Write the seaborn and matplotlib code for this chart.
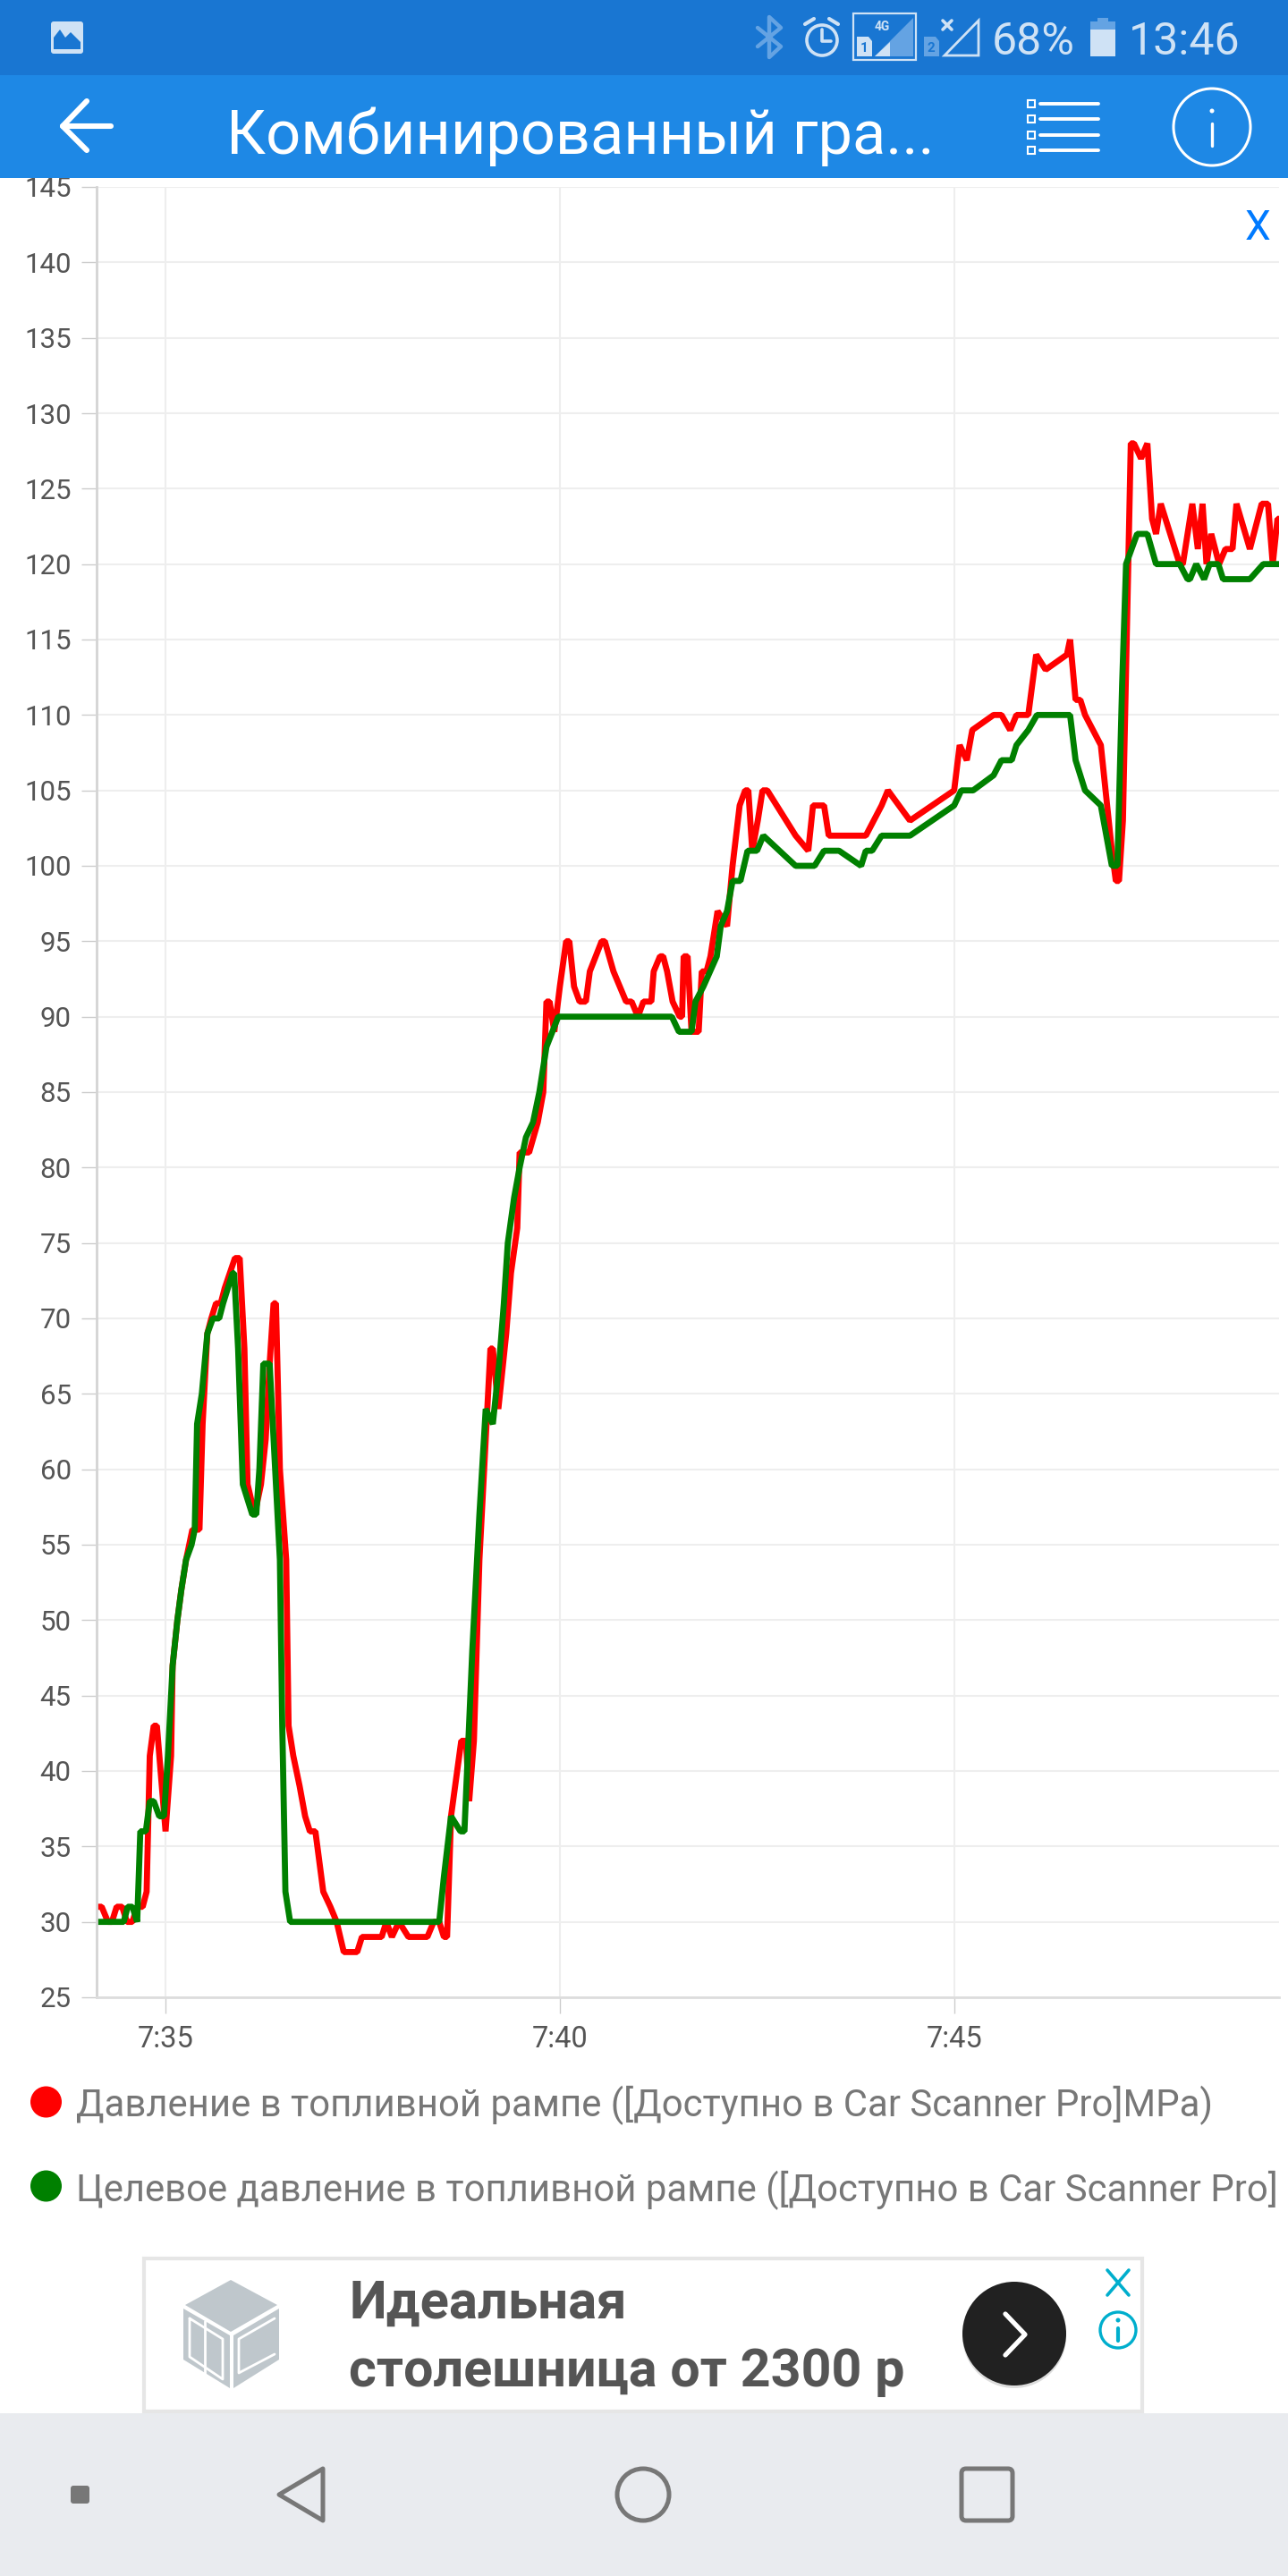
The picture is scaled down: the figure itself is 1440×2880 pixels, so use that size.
import matplotlib
matplotlib.use("Agg")
import matplotlib.pyplot as plt
import pandas as pd
import seaborn as sns
from matplotlib.patches import Circle, FancyBboxPatch, Polygon, Rectangle

# minutes after 7:00, pressure in MPa
RED_TIME = [
    34.12, 34.19, 34.27, 34.32, 34.38, 34.45, 34.51, 34.58, 34.64, 34.71, 34.76, 34.80, 34.85, 34.89,
    35.00, 35.07, 35.09, 35.15, 35.20, 35.26, 35.34, 35.43, 35.47, 35.53, 35.58, 35.64, 35.70, 35.75,
    35.88, 35.94, 36.00, 36.04, 36.13, 36.21, 36.27, 36.32, 36.37, 36.40, 36.45, 36.53, 36.56, 36.62,
    36.70, 36.77, 36.83, 36.90, 37.00, 37.09, 37.17, 37.26, 37.43, 37.49, 37.74, 37.80, 37.87, 37.96,
    38.08, 38.32, 38.40, 38.47, 38.53, 38.57, 38.62, 38.75, 38.81, 38.85, 38.91, 38.98, 39.06, 39.12,
    39.15, 39.22, 39.32, 39.38, 39.46, 39.49, 39.61, 39.72, 39.79, 39.83, 39.87, 39.93, 40.00, 40.08,
    40.12, 40.18, 40.25, 40.33, 40.38, 40.53, 40.57, 40.68, 40.84, 40.91, 40.99, 41.06, 41.16, 41.19,
    41.27, 41.31, 41.36, 41.43, 41.52, 41.55, 41.57, 41.62, 41.67, 41.76, 41.80, 41.86, 41.91, 42.00,
    42.12, 42.19, 42.28, 42.35, 42.39, 42.44, 42.51, 42.57, 42.63, 42.99, 43.15, 43.21, 43.25, 43.35,
    43.41, 43.88, 44.08, 44.16, 44.44, 45.00, 45.07, 45.16, 45.23, 45.50, 45.60, 45.71, 45.79, 45.94,
    46.04, 46.16, 46.43, 46.47, 46.54, 46.60, 46.66, 46.86, 47.00, 47.05, 47.09, 47.14, 47.24, 47.28,
    47.37, 47.45, 47.51, 47.56, 47.62, 47.86, 47.90, 48.02, 48.09, 48.15, 48.20, 48.26, 48.36, 48.44,
    48.53, 48.58, 48.75, 48.90, 48.98, 49.04, 49.10, 49.12,
]
RED_VALUE = [
    31, 31, 30, 30, 31, 31, 30, 30, 31, 31, 32, 41, 43, 43,
    36, 41, 47, 50, 52, 54, 56, 56, 63, 69, 70, 71, 71, 72,
    74, 74, 68, 59, 57, 59, 62, 67, 71, 71, 60, 54, 43, 41,
    39, 37, 36, 36, 32, 31, 30, 28, 28, 29, 29, 30, 29, 30,
    29, 29, 30, 30, 29, 29, 37, 42, 42, 38, 42, 54, 62, 68,
    68, 64, 69, 73, 76, 81, 81, 83, 85, 91, 91, 89, 92, 95,
    95, 92, 91, 91, 93, 95, 95, 93, 91, 91, 90, 91, 91, 93,
    94, 94, 93, 91, 90, 90, 94, 94, 89, 89, 93, 93, 94, 97,
    96, 100, 104, 105, 105, 101, 103, 105, 105, 102, 101, 104, 104, 104,
    102, 102, 104, 105, 103, 105, 108, 107, 109, 110, 110, 109, 110, 110,
    114, 113, 114, 115, 111, 111, 110, 108, 101, 99, 99, 103, 128, 128,
    127, 128, 123, 122, 124, 120, 120, 124, 121, 124, 120, 122, 120, 121,
    121, 124, 121, 124, 124, 120, 123, 123,
]
GREEN_TIME = [
    34.12, 34.47, 34.52, 34.58, 34.64, 34.68, 34.75, 34.80, 34.85, 34.92, 34.98, 35.03, 35.09, 35.15,
    35.20, 35.26, 35.33, 35.37, 35.40, 35.46, 35.53, 35.60, 35.68, 35.73, 35.85, 35.87, 35.92, 35.98,
    36.04, 36.10, 36.15, 36.19, 36.24, 36.32, 36.37, 36.45, 36.48, 36.52, 36.58, 38.47, 38.53, 38.62,
    38.74, 38.79, 38.89, 38.98, 39.06, 39.15, 39.23, 39.29, 39.34, 39.42, 39.49, 39.57, 39.66, 39.74,
    39.83, 39.98, 41.42, 41.51, 41.67, 41.72, 41.82, 41.99, 42.04, 42.12, 42.19, 42.29, 42.38, 42.50,
    42.58, 42.99, 43.23, 43.35, 43.54, 43.82, 43.88, 43.96, 44.08, 44.44, 45.00, 45.09, 45.24, 45.50,
    45.60, 45.73, 45.79, 45.94, 46.05, 46.47, 46.54, 46.66, 46.86, 47.00, 47.07, 47.13, 47.18, 47.32,
    47.45, 47.56, 47.86, 47.96, 47.99, 48.07, 48.17, 48.24, 48.35, 48.41, 48.75, 48.92, 49.12,
]
GREEN_VALUE = [
    30, 30, 31, 31, 30, 36, 36, 38, 38, 37, 37, 41, 47, 50,
    52, 54, 55, 56, 63, 65, 69, 70, 70, 71, 73, 73, 68, 59,
    58, 57, 57, 60, 67, 67, 62, 54, 43, 32, 30, 30, 33, 37,
    36, 36, 48, 57, 64, 63, 67, 71, 75, 78, 80, 82, 83, 85,
    88, 90, 90, 89, 89, 91, 92, 94, 96, 97, 99, 99, 101, 101,
    102, 100, 100, 101, 101, 100, 101, 101, 102, 102, 104, 105, 105, 106,
    107, 107, 108, 109, 110, 110, 107, 105, 104, 100, 100, 112, 120, 122,
    122, 120, 120, 119, 119, 120, 119, 120, 120, 119, 119, 120, 120,
]
X_TICKS = [35, 40, 45]
X_LABELS = ["7:35", "7:40", "7:45"]
Y_TICKS = list(range(25, 150, 5))
RED_NAME = "Давление в топливной рампе ([Доступно в Car Scanner Pro]MPa)"
# the screenshot cuts this one off at the screen edge, right after "Pro]"
GREEN_NAME = "Целевое давление в топливной рампе ([Доступно в Car Scanner Pro]"

W, H = 1440, 2880
BRIGHT = "#CFE2F5"
DIM = "#64A3E3"
NAV = "#777777"

sns.set_theme(style="white")
plt.rcParams["font.family"] = ["Roboto", "DejaVu Sans"]

df = pd.concat([
    pd.DataFrame({"time": RED_TIME, "value": RED_VALUE, "series": RED_NAME}),
    pd.DataFrame({"time": GREEN_TIME, "value": GREEN_VALUE, "series": GREEN_NAME}),
])

fig = plt.figure(figsize=(W / 100, H / 100), dpi=100, facecolor="white")
ax = fig.add_axes([107.5 / W, 1 - 2233 / H, (1430 - 107.5) / W, (2233 - 209) / H])
sns.lineplot(
    data=df, x="time", y="value", hue="series", estimator=None, sort=False, ax=ax, legend=False,
    palette={RED_NAME: "#FF0000", GREEN_NAME: "#008000"}, linewidth=4.9, solid_joinstyle="bevel",
)
ax.set_xlim(34.12, 49.12)
ax.set_ylim(25, 145)
ax.set_xticks(X_TICKS, X_LABELS)
ax.set_yticks(Y_TICKS)
ax.set_xlabel("")
ax.set_ylabel("")
ax.grid(True, color="#EEEEEE", linewidth=1.5)
ax.set_axisbelow(True)
ax.tick_params(axis="x", length=13, width=1, color="#CCCCCC", labelsize=23.5, labelcolor="#555555", pad=9, bottom=True)
ax.tick_params(axis="y", length=12, width=1, color="#CCCCCC", labelsize=22.5, labelcolor="#555555", pad=8, left=True)
sns.despine(ax=ax)
ax.spines["left"].set(color="#D4D4D4", linewidth=2)
ax.spines["bottom"].set(color="#DDDDDD", linewidth=2)

# everything around the chart, drawn in screen pixels
ui = fig.add_axes([0, 0, 1, 1], zorder=10)
ui.set_xlim(0, W)
ui.set_ylim(H, 0)
ui.axis("off")


def rect(x0, y0, x1, y1, color, **kw):
    ui.add_patch(Rectangle((x0, y0), x1 - x0, y1 - y0, facecolor=color, edgecolor="none", **kw))


def line(xs, ys, color, lw=3.0, **kw):
    ui.plot(xs, ys, color=color, lw=lw, solid_capstyle="round", solid_joinstyle="round", **kw)


def ring(x, y, r, color, lw=2.5):
    ui.add_patch(Circle((x, y), r, facecolor="none", edgecolor=color, linewidth=lw))


rect(0, 0, W, 84, "#1976D2")
rect(0, 84, W, 199, "#1E88E5")

# status bar
ui.add_patch(FancyBboxPatch((57, 24), 36, 36, boxstyle="round,pad=0,rounding_size=3", facecolor=BRIGHT, edgecolor="none"))
ui.add_patch(Polygon([(60, 55), (60, 42), (67, 33), (73, 42), (79, 36), (90, 47), (90, 55)], facecolor="#1976D2", edgecolor="none"))
line([847, 873, 860, 860, 873, 847], [31, 52, 64, 19, 31, 52], DIM, lw=3.2)
ring(919, 45, 17, BRIGHT, lw=2.6)
line([919, 919, 929], [33, 46, 46], BRIGHT, lw=2.6)
line([900, 910], [27, 21], BRIGHT, lw=3)
line([927, 937], [21, 27], BRIGHT, lw=3)
ui.add_patch(Rectangle((954, 15), 70, 52, facecolor="none", edgecolor=BRIGHT, linewidth=1.6))
ui.add_patch(Polygon([(978, 63), (1021, 20), (1021, 63)], facecolor="#64A3E3", edgecolor="none"))
ui.add_patch(Polygon([(978, 63), (995, 47), (995, 63)], facecolor=BRIGHT, edgecolor="none"))
ui.text(986, 30, "4G", color=BRIGHT, fontsize=10, fontweight="bold", ha="center", va="center")
ui.add_patch(Polygon([(958, 41), (971, 41), (975, 46), (975, 63), (958, 63)], facecolor=BRIGHT, edgecolor="none"))
ui.text(966, 54, "1", color="#1976D2", fontsize=11, fontweight="bold", ha="center", va="center")
ui.add_patch(Polygon([(1033, 41), (1046, 41), (1050, 46), (1050, 63), (1033, 63)], facecolor=DIM, edgecolor="none"))
ui.text(1041, 54, "2", color="#1976D2", fontsize=11, fontweight="bold", ha="center", va="center")
line([1054, 1064], [23, 33], BRIGHT, lw=2.6)
line([1064, 1054], [23, 33], BRIGHT, lw=2.6)
ui.add_patch(Polygon([(1056, 62), (1094, 23), (1094, 62)], facecolor="none", edgecolor=BRIGHT, linewidth=2))
ui.text(1109, 61, "68%", color=BRIGHT, fontsize=36, ha="left", va="baseline")
rect(1227, 20, 1239, 25, DIM)
rect(1219, 24, 1247, 33, DIM)
rect(1219, 33, 1247, 63, BRIGHT)
ui.text(1262, 61, "13:46", color=BRIGHT, fontsize=36, ha="left", va="baseline")

# app bar
line([70, 124], [141, 141], "white", lw=4.4)
line([97, 70, 97], [113, 141, 168], "white", lw=4.4)
ui.text(253, 172, "Комбинированный гра...", color="white", fontsize=49.3, ha="left", va="baseline")
for y in [116, 133, 151, 168]:
    ui.add_patch(Rectangle((1149, y - 4), 8, 8, facecolor="none", edgecolor="white", linewidth=1.5))
    line([1163, 1228], [y, y], "white", lw=2.8)
ring(1355, 142, 43, "white", lw=2.2)
line([1355, 1355], [138, 163], "white", lw=2.4)
ui.add_patch(Circle((1355, 124), 2.5, facecolor="white", edgecolor="none"))
ui.text(1406, 268, "X", color="#007AFF", fontsize=33, ha="center", va="baseline")

# legend
ui.add_patch(Circle((51.5, 2350), 17.5, facecolor="#FF0000", edgecolor="none"))
ui.text(85, 2366, RED_NAME, color="#777777", fontsize=30.2, ha="left", va="baseline")
ui.add_patch(Circle((51.5, 2444), 17.5, facecolor="#008000", edgecolor="none"))
ui.text(85, 2461, GREEN_NAME, color="#777777", fontsize=30.2, ha="left", va="baseline")

# ad block
ui.add_patch(Rectangle((161, 2525), 1116, 171, facecolor="white", edgecolor="#E6E6E6", linewidth=3))
CUBE = "#BFC7CC"
ui.add_patch(Polygon([(258, 2549), (310, 2577), (258, 2607), (207, 2577)], facecolor=CUBE, edgecolor="none"))
ui.add_patch(Polygon([(205, 2581), (257, 2611), (257, 2670), (205, 2638)], facecolor=CUBE, edgecolor="none"))
ui.add_patch(Polygon([(261, 2611), (312, 2581), (312, 2638), (261, 2670)], facecolor=CUBE, edgecolor="none"))
line([212, 249, 249, 212, 212], [2592, 2615, 2660, 2635, 2592], "white", lw=2)
line([229, 229], [2595, 2655], "white", lw=2)
line([307, 267, 267, 307], [2592, 2615, 2653, 2632], "white", lw=2)
ui.text(390, 2592, "Идеальная", color="#555555", fontsize=43, fontweight="bold", ha="left", va="baseline")
ui.text(390, 2668, "столешница от 2300 р", color="#555555", fontsize=42.7, fontweight="bold", ha="left", va="baseline")
ui.add_patch(Circle((1134, 2612), 58, facecolor="#DDDDDD", edgecolor="none"))
ui.add_patch(Circle((1134, 2609), 58, facecolor="#212121", edgecolor="none"))
line([1124, 1146, 1124], [2587, 2610, 2633], "white", lw=3.8)
line([1238, 1262], [2538, 2566], "#00AECD", lw=2.6)
line([1262, 1238], [2538, 2566], "#00AECD", lw=2.6)
ring(1250, 2605, 20, "#00AECD", lw=2.4)
line([1250, 1250], [2603, 2617], "#00AECD", lw=3)
ui.add_patch(Circle((1250, 2594), 2.5, facecolor="#00AECD", edgecolor="none"))

# nav bar
rect(0, 2698, W, H, "#E9EBEF")
ui.add_patch(FancyBboxPatch((79, 2779), 21, 20, boxstyle="round,pad=0,rounding_size=3", facecolor=NAV, edgecolor="none"))
ui.add_patch(Polygon([(361, 2760), (312, 2789), (361, 2818)], closed=True, facecolor="none", edgecolor=NAV, linewidth=3.6, joinstyle="round"))
ring(719, 2789, 29, NAV, lw=3.6)
ui.add_patch(FancyBboxPatch((1075, 2760), 57, 58, boxstyle="round,pad=0,rounding_size=5", facecolor="none", edgecolor=NAV, linewidth=3.6))

fig.savefig("out.png", dpi=100)
plt.close(fig)
